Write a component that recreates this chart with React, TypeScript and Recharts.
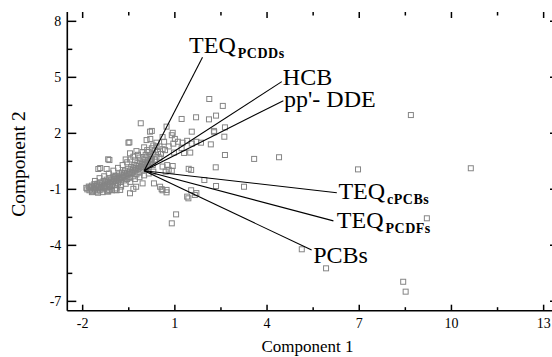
import React from 'react';
import { ScatterChart, Scatter, XAxis, YAxis } from 'recharts';

// Axis ticks
const X_MAJOR = [-2, 1, 4, 7, 10, 13];
const X_MINOR = [-0.5, 2.5, 5.5, 8.5, 11.5];
const Y_MAJOR = [-7, -4, -1, 2, 5, 8];
const Y_MINOR = [-5.5, -2.5, 0.5, 3.5, 6.5];
const X_DOMAIN = [-2.5, 13.5];
const Y_DOMAIN = [-7.5, 8.5];

// Loadings (biplot vectors from the origin)
const loadingNames = ['TEQ', 'HCB', "pp'- DDE", 'TEQ', 'TEQ', 'PCBs'];
const loadingSubs = ['PCDDs', '', '', 'cPCBs', 'PCDFs', ''];
const loadingX = [1.9, 4.48, 4.53, 6.27, 6.16, 5.45];
const loadingY = [6.07, 4.77, 3.75, -1.18, -2.69, -4.25];

// Sample scores: dense cloud near the origin
const cloudScores: [number, number][] = [
  [-1.88, -0.92], [-1.85, -1.0], [-1.8, -0.85], [-1.78, -1.05], [-1.74, -0.95], [-1.7, -0.8],
  [-1.68, -1.1], [-1.65, -0.9], [-1.62, -0.72], [-1.6, -1.02], [-1.57, -0.85], [-1.55, -1.12],
  [-1.52, -0.7], [-1.5, -0.95], [-1.47, -0.8], [-1.45, -1.05], [-1.42, -0.62], [-1.4, -0.88],
  [-1.37, -0.75], [-1.35, -1.0], [-1.32, -0.55], [-1.3, -0.82], [-1.28, -0.68], [-1.25, -0.95],
  [-1.22, -0.48], [-1.2, -0.75], [-1.18, -0.6], [-1.15, -0.88], [-1.12, -0.4], [-1.1, -0.7],
  [-1.08, -0.52], [-1.05, -0.82], [-1.02, -0.35], [-1.0, -0.62], [-0.98, -0.45], [-0.95, -0.75],
  [-0.92, -0.28], [-0.9, -0.55], [-0.88, -0.4], [-0.85, -0.68], [-0.82, -0.2], [-0.8, -0.48],
  [-0.78, -0.32], [-0.75, -0.6], [-0.72, -0.1], [-0.7, -0.4], [-0.68, -0.25], [-0.65, -0.52],
  [-0.62, 0.0], [-0.6, -0.3], [-0.58, -0.15], [-0.55, -0.45], [-0.52, 0.1], [-0.5, -0.2],
  [-0.48, -0.05], [-0.45, -0.38], [-0.42, 0.2], [-0.4, -0.12], [-0.38, 0.05], [-0.35, -0.3],
  [-0.32, 0.3], [-0.3, 0.0], [-0.28, 0.15], [-0.25, -0.2], [-0.22, 0.4], [-0.2, 0.1],
  [-0.18, 0.25], [-0.15, -0.1], [-0.12, 0.5], [-0.1, 0.2], [-0.08, 0.35], [-0.05, 0.0],
  [-0.02, 0.6], [0.0, 0.3], [0.03, 0.45], [0.05, 0.1], [0.08, 0.7], [0.1, 0.4],
  [0.13, 0.55], [0.15, 0.2], [0.18, 0.8], [0.2, 0.5], [0.25, 0.65], [0.28, 0.3],
  [0.3, 0.9], [0.35, 0.6], [0.4, 0.75], [0.45, 1.0], [0.5, 0.7], [0.55, 0.9],
  [-1.6, -0.55], [-1.45, -0.4], [-1.3, -0.3], [-1.15, -0.15], [-1.0, 0.0], [-0.85, 0.15],
  [-0.7, 0.3], [-0.55, 0.45], [-0.45, 0.6], [-0.35, 0.75], [-0.2, 0.85], [-0.05, 1.0],
  [0.1, 1.1], [0.25, 1.2],
  [-1.7, -1.15], [-1.5, -1.18], [-1.35, -1.15], [-1.2, -1.1], [-1.05, -1.05], [-0.9, -0.95],
  [-0.75, -0.85], [-0.6, -0.7], [-0.45, -0.6], [-0.3, -0.45], [-0.15, -0.35], [0.0, -0.25],
  [0.15, -0.15], [0.3, -0.05],
  [-1.75, -0.88], [-1.62, -0.95], [-1.48, -0.88], [-1.38, -0.92], [-1.27, -0.82], [-1.17, -0.7],
  [-1.07, -0.62], [-0.97, -0.55], [-0.87, -0.48], [-0.77, -0.4], [-0.67, -0.35], [-0.57, -0.25],
  [-0.47, -0.15], [-0.37, -0.08], [-0.27, 0.05], [-0.17, 0.12], [-0.07, 0.2], [0.03, 0.28],
  [0.13, 0.35], [0.23, 0.45], [-1.55, -0.78], [-1.25, -0.58], [-0.95, -0.35], [-0.65, -0.12],
  [-0.35, 0.12], [-0.05, 0.38], [0.22, 0.62],
  [-0.6, 0.6], [-0.3, 0.55], [-0.15, 0.7], [0.05, 0.85], [0.15, 1.0], [0.35, 1.1],
  [0.0, 1.25], [-0.25, 1.05], [0.4, 1.3], [0.6, 1.15],
];

// Sample scores: scattered points
const sparseScores: [number, number][] = [
  [-1.49, 0.09], [-1.22, 0.09], [-1.13, 0.57], [-1.17, 0.61], [-1.43, 0.14], [-0.46, 0.93],
  [-0.51, 1.5], [-0.48, 1.52], [0.19, 2.09], [0.25, 2.13], [-0.11, 2.54], [0.73, 2.36],
  [1.22, 2.77], [1.69, 2.86], [2.11, 2.75], [2.34, 2.95], [2.12, 3.84], [2.56, 3.47],
  [2.63, 2.32], [2.27, 2.13], [1.55, 2.09], [0.93, 2.03], [2.28, 2.06], [2.61, 1.82],
  [2.17, 1.41], [0.08, 1.64],
  [-1.17, -1.12], [-0.95, -1.03], [-0.46, -1.21], [-0.35, -0.97], [-0.26, -0.86], [-0.05, -0.68],
  [0.32, -0.68], [0.52, -0.86], [0.57, -0.99], [0.73, -1.16], [0.73, -1.03], [1.44, -1.48],
  [1.4, -1.39], [1.65, -1.3], [1.04, -2.34], [0.9, -2.82], [1.96, -0.5], [2.34, -0.82],
  [1.53, -1.05], [1.7, -1.2], [0.6, -1.05], [-1.14, -1.03], [-0.78, -1.03], [-0.9, -1.05],
  [0.95, 1.45], [1.1, 1.55], [1.25, 1.5], [1.4, 1.6], [1.55, 1.45], [1.7, 1.55],
  [1.85, 1.5], [1.22, 1.2], [0.68, 1.1], [0.97, 0.97], [1.3, 0.95], [1.5, 0.97],
  [2.63, 0.84], [3.58, 0.63], [4.39, 0.72], [2.33, 0.18], [0.93, 0.25], [0.75, 0.3],
  [0.6, 0.22], [1.53, 0.04], [1.45, 0.1], [0.9, 0.0], [0.8, 0.05], [0.7, -0.05],
  [0.8, 1.3], [1.0, 1.7], [0.65, 1.55], [0.5, 1.3], [0.4, 1.5], [0.3, 1.35],
  [0.6, 1.8], [0.2, 1.7], [0.9, 1.9],
  [6.96, 0.07], [10.63, 0.13], [8.68, 2.98], [9.2, -2.55], [5.13, -4.21], [5.92, -5.23],
  [8.43, -5.95], [8.51, -6.48], [3.25, -0.86],
];

const FONT = 'Liberation Serif';

// chart geometry (shared by the chart and the frame-tick overlay)
const CHART_W = 559;
const CHART_H = 357;
const MARGIN_TOP = 12;
const MARGIN_LEFT = 7.3;
const Y_AXIS_W = 60;
const X_AXIS_H = 46.3;
const PLOT_L = MARGIN_LEFT + Y_AXIS_W;
const PLOT_T = MARGIN_TOP;
const PLOT_W = CHART_W - PLOT_L;
const PLOT_H = CHART_H - MARGIN_TOP - X_AXIS_H;

// label placement relative to the vector tip (px)
const LABEL_OFFSETS: [number, number][] = [
  [-13.4, -4.7], [1, 3.5], [0.7, 5.9], [1.6, 5.8], [3.4, 6.6], [1.6, 12.6],
];

const scoreData = [...cloudScores, ...sparseScores].map(([x, y]) => ({ x, y }));
const loadingData = loadingNames.map((name, i) => ({
  x: loadingX[i],
  y: loadingY[i],
  name,
  sub: loadingSubs[i],
  idx: i,
}));

const sx = (v: number) => PLOT_L + ((v - X_DOMAIN[0]) / (X_DOMAIN[1] - X_DOMAIN[0])) * PLOT_W;
const sy = (v: number) => PLOT_T + ((Y_DOMAIN[1] - v) / (Y_DOMAIN[1] - Y_DOMAIN[0])) * PLOT_H;

const SquareDot = (props: any) => {
  const { cx, cy } = props;
  if (cx == null || cy == null) return <g />;
  return (
    <rect x={cx - 2.5} y={cy - 2.5} width={5} height={5} fill="none" stroke="#858585" strokeWidth={1} />
  );
};

const NoDot = () => <g />;

const LoadingLabel = (props: any) => {
  const { cx, cy, payload } = props;
  if (cx == null || cy == null) return <g />;
  const [dx, dy] = LABEL_OFFSETS[payload.idx];
  return (
    <text x={cx + dx} y={cy + dy} fontFamily={FONT} fontSize={24} fill="#000">
      {payload.name}
      {payload.sub && (
        <tspan fontSize={14} fontWeight="bold" dx={2} dy={5.5} letterSpacing={0.5}>
          {payload.sub}
        </tspan>
      )}
    </text>
  );
};

// tickSize/tickMargin are 0, so x/y is the axis line coordinate
const BottomLabel = ({ x, y, payload }: any) => (
  <text x={x} y={y + 17.5} textAnchor="middle" fontFamily={FONT} fontSize={14} fill="#000">
    {payload.value}
  </text>
);

const LeftLabel = ({ x, y, payload }: any) => (
  <text x={x - 6} y={y + 5} textAnchor="end" fontFamily={FONT} fontSize={14} fill="#000">
    {payload.value}
  </text>
);

const axisLine = { stroke: '#000', strokeWidth: 1.6 };

// inward tick marks on all four sides of the frame
const FrameTicks = () => {
  const bottom = PLOT_T + PLOT_H;
  const right = PLOT_L + PLOT_W;
  const xs = [...X_MAJOR.map((v) => [v, 6]), ...X_MINOR.map((v) => [v, 3.5])];
  const ys = [...Y_MAJOR.map((v) => [v, 9]), ...Y_MINOR.map((v) => [v, 5])];
  return (
    <g stroke="#000" strokeWidth={1.5}>
      {xs.map(([v, len]) => (
        <g key={`x${v}`}>
          <line x1={sx(v)} x2={sx(v)} y1={bottom} y2={bottom - len} />
          <line x1={sx(v)} x2={sx(v)} y1={PLOT_T} y2={PLOT_T + len} />
        </g>
      ))}
      {ys.map(([v, len]) => (
        <g key={`y${v}`}>
          <line x1={PLOT_L} x2={PLOT_L + len} y1={sy(v)} y2={sy(v)} />
          <line x1={right} x2={right - len} y1={sy(v)} y2={sy(v)} />
        </g>
      ))}
    </g>
  );
};

export default function App() {
  return (
    <div
      style={{
        position: 'absolute',
        left: 0,
        top: 0,
        width: 552,
        height: 357,
        overflow: 'hidden',
        background: '#fff',
        fontFamily: FONT,
      }}
    >
      <ScatterChart
        width={CHART_W}
        height={CHART_H}
        margin={{ top: MARGIN_TOP, right: 0, bottom: 0, left: MARGIN_LEFT }}
      >
        <XAxis
          type="number"
          dataKey="x"
          domain={X_DOMAIN}
          ticks={X_MAJOR}
          interval={0}
          height={X_AXIS_H}
          tickSize={0}
          tickMargin={0}
          axisLine={axisLine}
          tickLine={false}
          tick={<BottomLabel />}
        />
        <XAxis xAxisId="top" orientation="top" type="number" dataKey="x" domain={X_DOMAIN}
          height={0} axisLine={axisLine} tickLine={false} tick={false} />
        <YAxis
          type="number"
          dataKey="y"
          domain={Y_DOMAIN}
          ticks={Y_MAJOR}
          interval={0}
          width={Y_AXIS_W}
          tickSize={0}
          tickMargin={0}
          axisLine={axisLine}
          tickLine={false}
          tick={<LeftLabel />}
        />
        <YAxis yAxisId="right" orientation="right" type="number" dataKey="y" domain={Y_DOMAIN}
          width={0} axisLine={axisLine} tickLine={false} tick={false} />

        <Scatter data={scoreData} shape={<SquareDot />} isAnimationActive={false} />

        {loadingData.map((l) => (
          <Scatter
            key={`vec-${l.idx}`}
            data={[{ x: 0, y: 0 }, { x: l.x, y: l.y }]}
            line={{ stroke: '#000', strokeWidth: 1.1 }}
            lineType="joint"
            shape={<NoDot />}
            isAnimationActive={false}
          />
        ))}

        <Scatter data={loadingData} shape={<LoadingLabel />} isAnimationActive={false} />
      </ScatterChart>

      {/* frame ticks and axis titles */}
      <svg
        width={552}
        height={357}
        style={{ position: 'absolute', left: 0, top: 0, pointerEvents: 'none' }}
      >
        <FrameTicks />
        <text x={307.5} y={352} textAnchor="middle" fontFamily={FONT} fontSize={17} fill="#000">
          Component 1
        </text>
        <text
          transform="translate(24.5,164) rotate(-90)"
          textAnchor="middle"
          fontFamily={FONT}
          fontSize={19.5}
          fill="#000"
        >
          Component 2
        </text>
      </svg>
    </div>
  );
}
